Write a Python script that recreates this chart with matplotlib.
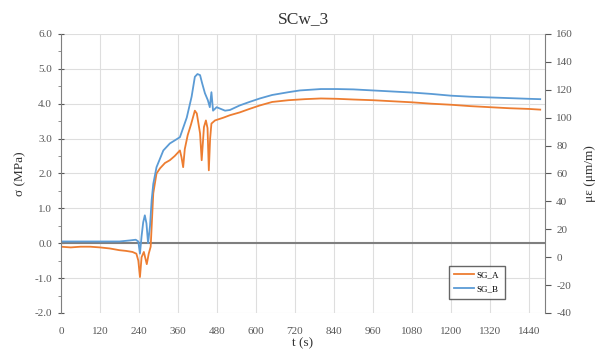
import matplotlib
matplotlib.use('Agg')
import matplotlib.pyplot as plt
from matplotlib.ticker import MultipleLocator

plt.rcParams['font.family'] = ['Liberation Serif', 'DejaVu Serif']
plt.rcParams['axes.unicode_minus'] = False

# SG_A (orange) - stress in MPa vs time (s)
t_a = [0, 30, 60, 90, 120, 150, 180, 200, 220, 232, 238, 243, 248, 255, 264, 270, 276,
       284, 294, 305, 320, 335, 350, 366, 371, 376, 381, 390, 400, 412, 418, 428, 433,
       440, 446, 451, 455, 459, 463, 474, 500, 520, 550, 580, 612, 650, 700, 750, 800,
       850, 900, 960, 1020, 1080, 1140, 1200, 1260, 1320, 1380, 1440, 1475]
sg_a = [-0.1, -0.12, -0.1, -0.1, -0.12, -0.15, -0.2, -0.22, -0.25, -0.3, -0.5, -0.97,
        -0.4, -0.25, -0.6, -0.3, -0.1, 1.43, 2.0, 2.15, 2.3, 2.38, 2.5, 2.66, 2.46, 2.18,
        2.7, 3.1, 3.4, 3.8, 3.72, 3.15, 2.38, 3.33, 3.52, 3.3, 2.09, 3.0, 3.43, 3.52, 3.6,
        3.67, 3.75, 3.85, 3.95, 4.05, 4.1, 4.13, 4.15, 4.14, 4.12, 4.1, 4.07, 4.04, 4.0,
        3.97, 3.93, 3.9, 3.87, 3.85, 3.83]

# SG_B (blue)
t_b = [0, 60, 120, 180, 212, 230, 238, 243, 248, 253, 258, 263, 268, 274, 279, 284, 294,
       315, 335, 366, 387, 402, 412, 420, 428, 434, 443, 452, 458, 463, 468, 479, 505,
       520, 550, 580, 612, 650, 700, 735, 800, 850, 900, 960, 1020, 1080, 1140, 1200,
       1260, 1320, 1380, 1440, 1475]
sg_b = [0.05, 0.05, 0.05, 0.05, 0.08, 0.1, 0.05, -0.3, 0.2, 0.6, 0.8, 0.57, 0.0, 0.5,
        1.23, 1.7, 2.18, 2.66, 2.86, 3.04, 3.6, 4.2, 4.77, 4.85, 4.82, 4.6, 4.3, 4.1, 3.9,
        4.33, 3.8, 3.9, 3.8, 3.82, 3.95, 4.05, 4.15, 4.25, 4.33, 4.38, 4.42, 4.42, 4.41,
        4.38, 4.35, 4.32, 4.28, 4.23, 4.2, 4.18, 4.16, 4.14, 4.13]

x_ticks = [0, 120, 240, 360, 480, 600, 720, 840, 960, 1080, 1200, 1320, 1440]

orange = '#ED7D31'
blue = '#5B9BD5'
tick_col = '#595959'

fig = plt.figure(figsize=(6.07, 3.61), dpi=100)
ax = fig.add_axes([0.1005, 0.133, 0.7975, 0.773])

ax.plot(t_a, sg_a, color=orange, lw=1.3, label='SG_A')
ax.plot(t_b, sg_b, color=blue, lw=1.3, label='SG_B')
ax.axhline(0, color='#7f7f7f', lw=1.5, zorder=1)

ax.set_xlim(0, 1490)
ax.set_ylim(-2, 6)
ax.set_xticks(x_ticks)
ax.yaxis.set_major_locator(MultipleLocator(1))
ax.yaxis.set_minor_locator(MultipleLocator(0.5))
ax.yaxis.set_major_formatter(plt.FuncFormatter(lambda v, p: f'{v:.1f}'))
ax.grid(True, which='major', color='#dedede', lw=0.8, zorder=0)
ax.set_axisbelow(True)

for s in ['top', 'bottom']:
    ax.spines[s].set_visible(False)
ax.spines['left'].set_color('#7f7f7f')
ax.spines['right'].set_visible(False)
ax.tick_params(axis='x', length=0, labelsize=8, colors=tick_col, pad=10)
ax.tick_params(axis='y', which='major', direction='inout', length=5, labelsize=8,
               colors=tick_col, pad=4)
ax.tick_params(axis='y', which='minor', direction='out', length=2.5, colors='#7f7f7f')

ax.set_xlabel('t (s)', fontsize=9.5, labelpad=1, color='#333333')
ax.set_ylabel('σ (MPa)', fontsize=9.5, color='#333333', labelpad=6)
ax.set_title('SCw_3', fontsize=12.5, color='#333333', pad=8)

ax2 = ax.twinx()
ax2.set_ylim(-40, 160)
ax2.yaxis.set_major_locator(MultipleLocator(20))
for s in ['top', 'bottom', 'left']:
    ax2.spines[s].set_visible(False)
ax2.spines['right'].set_color('#7f7f7f')
ax2.tick_params(axis='y', direction='out', length=4, labelsize=8, colors=tick_col,
                pad=4)
ax2.set_ylabel('με (μm/m)', fontsize=9.5, color='#333333', rotation=90, labelpad=8)

leg = ax.legend(loc='lower right', bbox_to_anchor=(0.926, 0.035), fontsize=6.5,
                handlelength=2.2, frameon=True, fancybox=False, borderpad=0.6,
                labelspacing=0.6, handletextpad=0.3)
leg.get_frame().set_edgecolor('#404040')
leg.get_frame().set_linewidth(1.0)

fig.savefig('out.png', dpi=100)
